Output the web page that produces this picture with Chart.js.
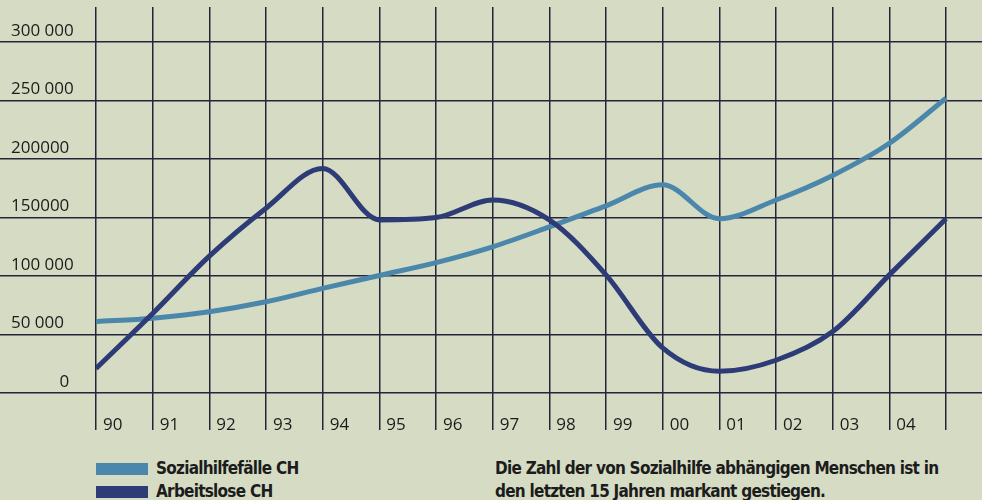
<!DOCTYPE html>
<html>
<head>
<meta charset="utf-8">
<script src="https://cdn.jsdelivr.net/npm/chart.js@4/dist/chart.umd.min.js"></script>
<style>
  body { margin: 0; background: #fff; }
  #wrap { position: relative; width: 982px; height: 500px; background: #d6dcc4; overflow: hidden; }
  #chartBox { position: absolute; left: 0; top: 0; }
  .foot { position: absolute; font-family: "Liberation Sans Narrow", "DejaVu Sans Condensed", sans-serif; font-weight: bold; font-size: 17px; letter-spacing: -0.75px; color: #1c1c1c; line-height: 23px; }
  #legend { left: 96px; top: 457px; }
  #legend .row { display: flex; align-items: center; height: 23px; }
  #legend .sw { width: 52px; height: 12px; margin-right: 8px; }
  #note { left: 495px; top: 457px; }
</style>
</head>
<body>
<div id="wrap">
  <div id="chartBox"><canvas id="chart" width="982" height="440"></canvas></div>
  <div id="legend" class="foot"></div>
  <div id="note" class="foot"></div>
</div>
<script>
const years = [1990, 1991, 1992, 1993, 1994, 1995, 1996, 1997, 1998, 1999, 2000, 2001, 2002, 2003, 2004, 2005];
const yearLabels = ["90", "91", "92", "93", "94", "95", "96", "97", "98", "99", "00", "01", "02", "03", "04", ""];
const sozialhilfe = [61000, 64000, 69500, 78000, 89500, 100500, 111500, 125000, 142000, 160000, 178000, 149000, 165000, 186000, 213500, 252000];
const arbeitslose = [21000, 68000, 117000, 158000, 192000, 148000, 150000, 165000, 148000, 101000, 38500, 18500, 28000, 52500, 101000, 149000];
const yTickValues = [0, 50000, 100000, 150000, 200000, 250000, 300000];
const yTickLabels = ["0", "50 000", "100 000", "150000", "200000", "250 000", "300 000"];
const seriesNames = ["Sozialhilfefälle CH", "Arbeitslose CH"];
const seriesColors = ["#4a87ab", "#2d3b76"];
const noteLines = ["Die Zahl der von Sozialhilfe abhängigen Menschen ist in", "den letzten 15 Jahren markant gestiegen."];

const gridColor = "#24243a";
const axisFont = { family: "'Open Sans', sans-serif", size: 17 };

const toPoints = vals => vals.map((v, i) => ({ x: years[i], y: v }));

new Chart(document.getElementById("chart"), {
  type: "line",
  data: {
    datasets: [
      { label: seriesNames[0], data: toPoints(sozialhilfe), borderColor: seriesColors[0], order: 1 },
      { label: seriesNames[1], data: toPoints(arbeitslose), borderColor: seriesColors[1], order: 0 }
    ]
  },
  options: {
    responsive: false,
    animation: false,
    layout: { padding: { left: 11, top: 7, right: 0, bottom: 0 } },
    elements: {
      line: { borderWidth: 5, cubicInterpolationMode: "monotone", fill: false, borderCapStyle: "butt" },
      point: { radius: 0 }
    },
    plugins: { legend: { display: false }, tooltip: { enabled: false } },
    scales: {
      x: {
        type: "linear",
        min: 1990,
        max: 2005.635,
        afterBuildTicks: s => { s.ticks = years.map(v => ({ value: v })); },
        afterFit: s => { s.height = 47; s.paddingLeft = 0; s.paddingRight = 0; },
        border: { display: false },
        grid: { color: gridColor, lineWidth: 1.5, tickLength: 37, tickColor: gridColor },
        ticks: {
          autoSkip: false, maxRotation: 0, align: "start", labelOffset: 7, padding: -15,
          color: "#1c1c1c", font: axisFont,
          callback: (v, i) => yearLabels[i]
        }
      },
      y: {
        min: 0,
        max: 330000,
        afterBuildTicks: s => { s.ticks = yTickValues.map(v => ({ value: v })); },
        afterFit: s => { s.width = 85; s.paddingTop = 0; s.paddingBottom = 0; },
        border: { display: false },
        grid: { color: gridColor, lineWidth: 1.5, tickLength: 96, tickColor: gridColor },
        ticks: {
          crossAlign: "far", labelOffset: -11, padding: 0,
          color: "#1c1c1c", font: axisFont,
          callback: (v, i) => v === 0 ? "\u2007\u2007\u2007\u2007\u2007" + yTickLabels[i] : yTickLabels[i]
        }
      }
    }
  }
});

document.getElementById("legend").innerHTML = seriesNames.map((n, i) =>
  `<div class="row"><span class="sw" style="background:${seriesColors[i]}"></span>${n}</div>`).join("");
document.getElementById("note").innerHTML = noteLines.join("<br>");
</script>
</body>
</html>
